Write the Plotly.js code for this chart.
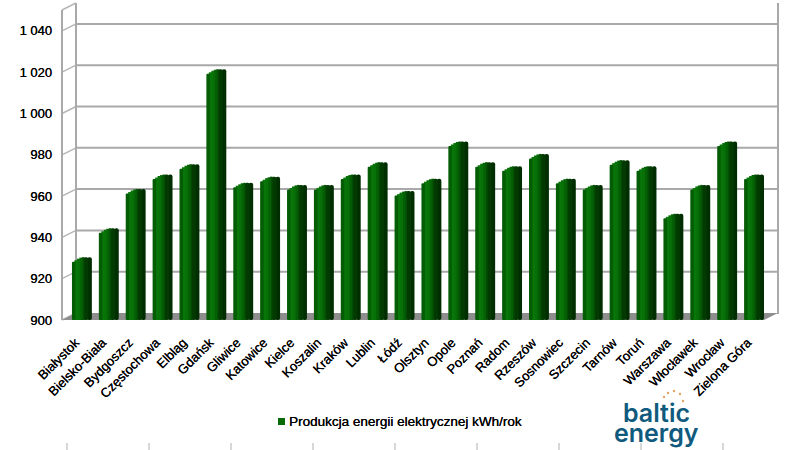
<!DOCTYPE html>
<html><head><meta charset="utf-8">
<script src="https://cdn.plot.ly/plotly-3.0.1.min.js"></script>
<style>html,body{margin:0;padding:0;background:#fff}</style></head>
<body><div id="c" style="width:797px;height:450px"></div>
<script>
const categories=["Białystok","Bielsko-Biała","Bydgoszcz","Częstochowa","Elbląg","Gdańsk","Gliwice","Katowice","Kielce","Koszalin","Kraków","Lublin","Łódź","Olsztyn","Opole","Poznań","Radom","Rzeszów","Sosnowiec","Szczecin","Tarnów","Toruń","Warszawa","Włocławek","Wrocław","Zielona Góra"];
const values=[928,942,961,968,973,1019,964,967,963,963,968,974,960,966,984,974,972,978,966,963,975,972,949,963,984,968];
const seriesName="Produkcja energii elektrycznej kWh/rok";
const tickVals=[900,920,940,960,980,1000,1020,1040];
const tickText=["900","920","940","960","980","1 000","1 020","1 040"];
const W=797,H=450;
const L=62,R=764,B=320,DX=14,DY=7,T=10;
const SCALE=2.065, PITCH=(R-L)/categories.length;
const YMAX=900+(B-T)/SCALE;
const px=(x)=>x/W, py=(y)=>1-y/H;
const BOLD='0.25px 0 0 #000';
// bar layers, painted right to left: [left px from category centre, right px, extra height px, colour, radius]
const layers=[
 [12,16.5,5,"#012e01",3],
 [8,13,5,"#023a02",2],
 [6.5,9,5,"#034c03",0],
 [4,7.5,4.5,"#056005",0],
 [1.5,5,3.5,"#087008",0],
 [-1,2.5,2,"#097609",0],
 [-3.5,0,0.5,"#045c04",1]
];
const traces=layers.map(l=>({type:'bar',x:categories,y:values.map(v=>v-900+l[2]/SCALE),base:900,
 width:(l[1]-l[0])/PITCH,offset:l[0]/PITCH,marker:{color:l[3],line:{width:0},cornerradius:l[4]},
 showlegend:false,hoverinfo:'skip',name:seriesName}));
const shapes=[];
const line={color:"#a9a9a9",width:2};
const seg=(x0,y0,x1,y1,ln)=>shapes.push({type:'line',xref:'paper',yref:'paper',x0:px(x0),x1:px(x1),y0:py(y0),y1:py(y1),line:ln,layer:'below'});
tickVals.forEach(v=>{
 const y=B-(v-900)*SCALE;
 if(v>900) seg(L+DX,y-DY,R+DX,y-DY,line);
 seg(L,y,L+DX,y-DY,{color:"#b5b5b5",width:1.5});
});
seg(L,B,L,T,line);
seg(L+DX,B-DY,L+DX,T-DY,line);
seg(R+DX,B-DY+1,R+DX,T-DY,line);
seg(L,T,L+DX,T-DY,{color:"#b5b5b5",width:1.5});
shapes.push({type:'path',xref:'paper',yref:'paper',path:`M${px(L)},${py(B)} L${px(L+DX)},${py(B-DY)} L${px(R+DX)},${py(B-DY)} L${px(R)},${py(B)} Z`,fillcolor:"#8e8e8e",line:{width:0},layer:'below'});
[67,149,231,313,395,477,559,641,723].forEach(x=>shapes.push({type:'line',xref:'paper',yref:'paper',x0:px(x),x1:px(x),y0:py(443),y1:py(450),line:{color:"#b0b0b0",width:1}}));
// legend swatch
shapes.push({type:'rect',xref:'paper',yref:'paper',x0:px(278),x1:px(285),y0:py(418),y1:py(425),fillcolor:"#066b06",line:{width:0}});
// logo dots
[[664,397],[668,393],[674,391],[680,394],[683,401]].forEach(d=>shapes.push({type:'circle',xref:'paper',yref:'paper',x0:px(d[0]-1.2),x1:px(d[0]+1.2),y0:py(d[1]-1.2),y1:py(d[1]+1.2),fillcolor:"#e3a264",line:{width:0}}));
const annotations=[
 {xref:'paper',yref:'paper',x:px(289),y:py(421),text:seriesName,showarrow:false,font:{size:13.5,color:'#000',shadow:BOLD},xanchor:'left',yanchor:'middle',xshift:-2},
 {xref:'paper',yref:'paper',x:px(656),y:py(413),text:'baltic',showarrow:false,font:{family:'Inter, "Open Sans", sans-serif',size:25,color:'#0f5a7d',weight:600},xanchor:'center',yanchor:'middle'},
 {xref:'paper',yref:'paper',x:px(656),y:py(433),text:'energy',showarrow:false,font:{family:'Inter, "Open Sans", sans-serif',size:25,color:'#0f5a7d',weight:600},xanchor:'center',yanchor:'middle'}
];
const layout={width:W,height:H,margin:{l:0,r:0,t:0,b:0},paper_bgcolor:'#fff',plot_bgcolor:'rgba(0,0,0,0)',barmode:'overlay',
 font:{family:'"Liberation Sans",Arial,sans-serif',color:'#000'},
 xaxis:{domain:[px(L),px(R)],type:'category',categoryorder:'array',categoryarray:categories,anchor:'y',tickangle:-45,tickfont:{size:13,color:'#000',shadow:BOLD},showline:false,showgrid:false,ticks:'outside',ticklen:9,tickcolor:'rgba(0,0,0,0)'},
 yaxis:{domain:[py(B),py(T)],range:[900,YMAX],anchor:'x',tickmode:'array',tickvals:tickVals,ticktext:tickText,tickfont:{size:13,color:'#000',shadow:BOLD},showgrid:false,zeroline:false,showline:false,ticks:'',ticklabelstandoff:9},
 showlegend:false,shapes:shapes,annotations:annotations};
Plotly.newPlot('c',traces,layout,{displayModeBar:false,staticPlot:true});
</script></body></html>
